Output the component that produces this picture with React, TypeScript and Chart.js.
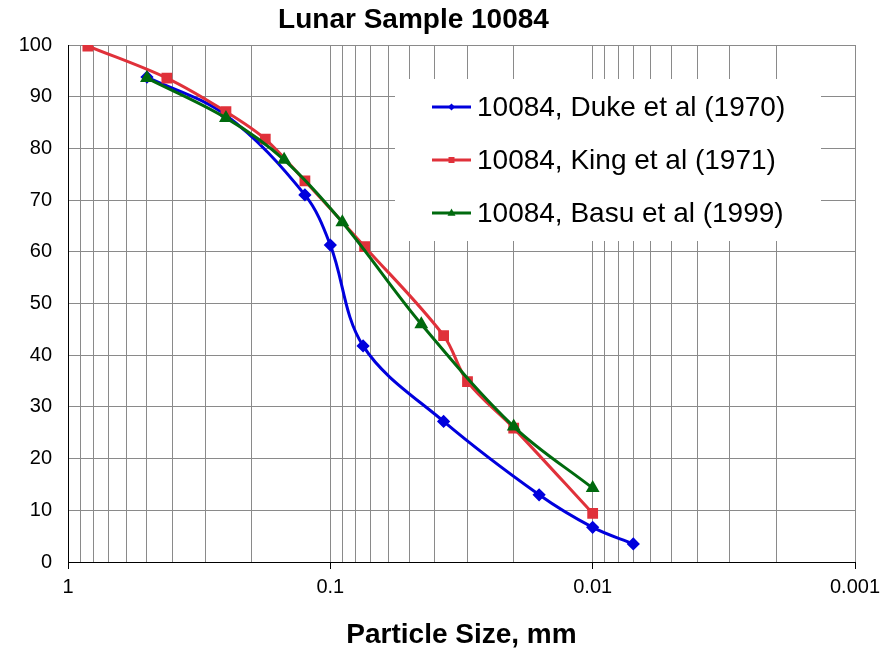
import React, { useEffect, useRef } from 'react';
import { Chart, registerables } from 'chart.js';

Chart.register(...registerables);

// ---- Text ----
const chartTitle = 'Lunar Sample 10084';
const xAxisTitle = 'Particle Size, mm';
const seriesNames = ['10084, Duke et al (1970)', '10084, King et al (1971)', '10084, Basu et al (1999)'];

// ---- Axis ticks ----
const xTickValues = [1, 0.1, 0.01, 0.001];
const xTickLabels = ['1', '0.1', '0.01', '0.001'];
const yMin = 0;
const yMax = 100;
const yStep = 10;

// ---- Series data (size in mm, cumulative %) ----
const dukeSize = [0.5, 0.25, 0.125, 0.1, 0.075, 0.037, 0.016, 0.01, 0.007];
const dukePct = [93.8, 86.4, 71.0, 61.3, 41.8, 27.2, 13.0, 6.7, 3.5];

const kingSize = [0.84, 0.42, 0.25, 0.177, 0.125, 0.074, 0.037, 0.03, 0.02, 0.01];
const kingPct = [99.8, 93.6, 87.1, 81.8, 73.7, 61.0, 43.8, 34.9, 25.9, 9.4];

const basuSize = [0.5, 0.25, 0.15, 0.09, 0.045, 0.02, 0.01];
const basuPct = [93.6, 85.9, 77.8, 65.7, 46.0, 26.2, 14.3];

const colors = ['#0000DD', '#E0313A', '#006A0E'];
const FONT = '"Liberation Sans", Arial, Helvetica, sans-serif';

const toPoints = (xs: number[], ys: number[]) => xs.map((x, i) => ({ x, y: ys[i] }));

const isMajor = (v: number) => xTickValues.some((t) => Math.abs(t - v) / t < 1e-6);

// gridline positions: every 1..9 x decade between the major ticks
const gridValues: number[] = [];
for (let d = 0; d < xTickValues.length - 1; d++) {
  const low = xTickValues[d + 1];
  for (let k = 1; k <= 9; k++) gridValues.push(+(low * k).toPrecision(6));
}
gridValues.push(xTickValues[0]);

function drawMarker(ctx: CanvasRenderingContext2D, kind: string, x: number, y: number, r: number) {
  ctx.beginPath();
  if (kind === 'rectRot') {
    ctx.moveTo(x, y - r);
    ctx.lineTo(x + r, y);
    ctx.lineTo(x, y + r);
    ctx.lineTo(x - r, y);
  } else if (kind === 'rect') {
    ctx.rect(x - r, y - r, 2 * r, 2 * r);
  } else {
    ctx.moveTo(x, y - r * 1.1);
    ctx.lineTo(x + r, y + r * 0.7);
    ctx.lineTo(x - r, y + r * 0.7);
  }
  ctx.closePath();
  ctx.fill();
}

const titleAndLegend = {
  id: 'titleAndLegend',
  beforeDatasetsDraw(chart: any) {
    const ctx: CanvasRenderingContext2D = chart.ctx;
    ctx.save();
    // chart title
    ctx.fillStyle = '#000000';
    ctx.font = `bold 28px ${FONT}`;
    ctx.textAlign = 'center';
    ctx.textBaseline = 'middle';
    ctx.fillText(chartTitle, 413.5, 20);
    // legend box inside the plot
    ctx.fillStyle = '#ffffff';
    ctx.fillRect(395, 79, 426, 162);
    const markers = ['rectRot', 'rect', 'triangle'];
    const sizes = [3.5, 3, 4];
    chart.data.datasets.forEach((ds: any, i: number) => {
      const y = 107 + i * 53;
      ctx.strokeStyle = ds.borderColor;
      ctx.lineWidth = 3;
      ctx.beginPath();
      ctx.moveTo(432, y);
      ctx.lineTo(471, y);
      ctx.stroke();
      ctx.fillStyle = ds.borderColor;
      drawMarker(ctx, markers[i], 451.5, y, sizes[i]);
      ctx.fillStyle = '#000000';
      ctx.font = `28px ${FONT}`;
      ctx.textAlign = 'left';
      ctx.textBaseline = 'middle';
      ctx.fillText(ds.label, 477, y + 1);
    });
    ctx.restore();
  },
};

export default function App() {
  const ref = useRef<HTMLCanvasElement | null>(null);

  useEffect(() => {
    document.body.style.margin = '0';
    const canvas = ref.current;
    if (!canvas) return;
    const chart = new Chart(canvas, {
      type: 'line',
      data: {
        datasets: [
          {
            label: seriesNames[0],
            data: toPoints(dukeSize, dukePct),
            borderColor: colors[0],
            backgroundColor: colors[0],
            pointStyle: 'rectRot',
            pointRadius: 4.5,
            borderWidth: 3,
            tension: 0.35,
            order: 2,
          },
          {
            label: seriesNames[1],
            data: toPoints(kingSize, kingPct),
            borderColor: colors[1],
            backgroundColor: colors[1],
            pointStyle: 'rect',
            pointRadius: 5.5,
            borderWidth: 3,
            tension: 0.35,
            order: 1,
          },
          {
            label: seriesNames[2],
            data: toPoints(basuSize, basuPct),
            borderColor: colors[2],
            backgroundColor: colors[2],
            pointStyle: 'triangle',
            pointRadius: 5,
            borderWidth: 3,
            tension: 0.35,
            order: 0,
          },
        ],
      },
      options: {
        responsive: false,
        animation: false,
        devicePixelRatio: 1,
        layout: { padding: { left: 0, right: 36, top: 45, bottom: 0 } },
        font: { family: FONT },
        plugins: {
          legend: { display: false },
          tooltip: { enabled: false },
          title: { display: false },
        },
        elements: {
          point: { borderWidth: 1 },
          line: { capBezierPoints: true },
        },
        scales: {
          x: {
            type: 'logarithmic',
            reverse: true,
            min: xTickValues[xTickValues.length - 1],
            max: xTickValues[0],
            afterBuildTicks: (scale: any) => {
              scale.ticks = gridValues.map((v) => ({ value: v, major: isMajor(v) }));
            },
            afterFit: (scale: any) => {
              scale.height = 87;
            },
            ticks: {
              autoSkip: false,
              maxRotation: 0,
              minRotation: 0,
              padding: 6,
              color: '#000',
              font: { family: FONT, size: 20 },
              callback: (value: any) => {
                const i = xTickValues.findIndex((t) => Math.abs(t - Number(value)) / t < 1e-6);
                return i >= 0 ? xTickLabels[i] : '';
              },
            },
            grid: {
              color: '#8a8a8a',
              lineWidth: 1,
              drawTicks: true,
              tickLength: 7,
              tickColor: (ctx: any) => (ctx.tick && isMajor(ctx.tick.value) ? '#000' : 'rgba(0,0,0,0)'),
            },
            border: { display: true, color: '#000', width: 1 },
            title: {
              display: true,
              text: xAxisTitle,
              color: '#000',
              font: { family: FONT, size: 28, weight: 'bold', lineHeight: 1 },
              padding: { top: 0, bottom: 0 },
            },
          },
          y: {
            type: 'linear',
            min: yMin,
            max: yMax,
            afterFit: (scale: any) => {
              scale.width = 68;
            },
            ticks: {
              stepSize: yStep,
              padding: 16,
              color: '#000',
              font: { family: FONT, size: 20 },
            },
            grid: {
              color: '#8a8a8a',
              lineWidth: 1,
              drawTicks: false,
            },
            border: { display: true, color: '#000', width: 1 },
          },
        },
      },
      plugins: [titleAndLegend],
    } as any);
    return () => chart.destroy();
  }, []);

  return (
    <div style={{ width: 891, height: 649, background: '#fff' }}>
      <canvas ref={ref} width={891} height={649} style={{ display: 'block' }} />
    </div>
  );
}
